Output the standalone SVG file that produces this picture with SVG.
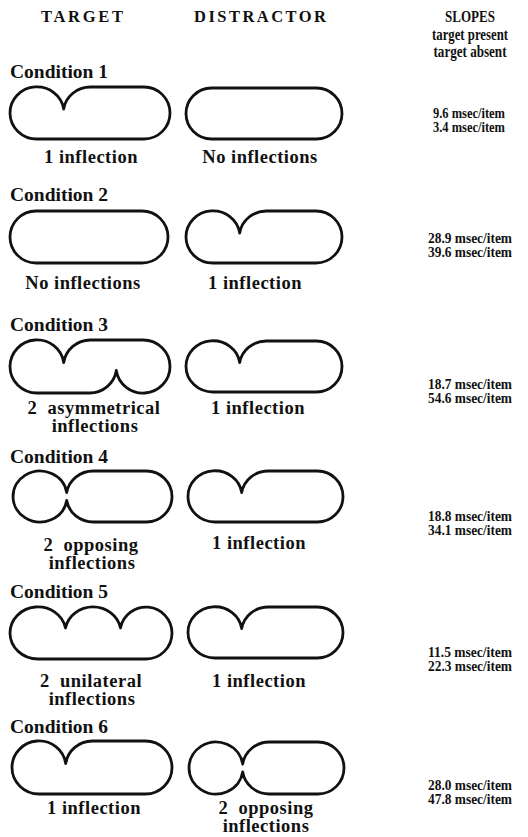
<svg xmlns="http://www.w3.org/2000/svg" width="528" height="837" viewBox="0 0 528 837">
<style>
text{font-family:"Liberation Serif","Times New Roman",serif;font-weight:bold;fill:#111}
.hd{font-size:16.5px;text-anchor:middle}
.hs{font-size:16.5px;text-anchor:middle}
.sub{font-size:16.5px;text-anchor:middle}
.cond{font-size:19.5px}
.lbl{font-size:18.5px;letter-spacing:0.5px;text-anchor:middle}
.sl{font-size:15.5px;text-anchor:middle}
.sh{fill:none;stroke:#111;stroke-width:2.8;stroke-linejoin:round}
</style>
<rect width="528" height="837" fill="#fff"/>
<g id="headers">
<text class="hd" x="82" y="22" textLength="82">TARGET</text>
<text class="hd" x="260" y="22" textLength="132">DISTRACTOR</text>
<text class="hs" x="470" y="22" textLength="50" lengthAdjust="spacingAndGlyphs">SLOPES</text>
<text class="sub" x="470" y="40" textLength="76" lengthAdjust="spacingAndGlyphs">target present</text>
<text class="sub" x="470" y="57" textLength="73" lengthAdjust="spacingAndGlyphs">target absent</text>
</g>
<g id="condition1">
<text class="cond" x="10" y="78">Condition 1</text>
<path class="sh" d="M37 139 A27 26 0 0 1 10 113 A27 26 0 0 1 63.7 109 A27 26 0 0 1 90.4 87 L144 87 A26 26 0 0 1 144 139 Z"/>
<path class="sh" d="M211.5 88 L316.5 88 A25.5 25.5 0 0 1 316.5 139 L211.5 139 A25.5 25.5 0 0 1 211.5 88 Z"/>
<text class="lbl" x="91" y="163">1 inflection</text>
<text class="lbl" x="260" y="163">No inflections</text>
<text class="sl" x="469" y="117.5" textLength="72" lengthAdjust="spacingAndGlyphs">9.6 msec/item</text>
<text class="sl" x="469" y="131.5" textLength="72" lengthAdjust="spacingAndGlyphs">3.4 msec/item</text>
</g>
<g id="condition2">
<text class="cond" x="10" y="201">Condition 2</text>
<path class="sh" d="M36 211 L142 211 A26 26 0 0 1 142 263 L36 263 A26 26 0 0 1 36 211 Z"/>
<path class="sh" d="M213 263 A27 26 0 0 1 186 237 A27 26 0 0 1 239.7 233 A27 26 0 0 1 266.4 211 L316 211 A26 26 0 0 1 316 263 Z"/>
<text class="lbl" x="83" y="289">No inflections</text>
<text class="lbl" x="255" y="289">1 inflection</text>
<text class="sl" x="470" y="242.5" textLength="84" lengthAdjust="spacingAndGlyphs">28.9 msec/item</text>
<text class="sl" x="470" y="256.5" textLength="84" lengthAdjust="spacingAndGlyphs">39.6 msec/item</text>
</g>
<g id="condition3">
<text class="cond" x="10" y="331">Condition 3</text>
<path class="sh" d="M37 393 A27 26.5 0 0 1 10 366.5 A27 26.5 0 0 1 63.7 362.5 A27 26.5 0 0 1 90.4 340 L143 340 A27 26.5 0 0 1 170 366.5 A27 26.5 0 0 1 116.3 370.5 A27 26.5 0 0 1 89.6 393 Z"/>
<path class="sh" d="M213 392 A27 25.5 0 0 1 186 366.5 A27 25.5 0 0 1 239.7 362.5 A27 25.5 0 0 1 266.4 341 L316.5 341 A25.5 25.5 0 0 1 316.5 392 Z"/>
<text class="lbl" x="94" y="414" xml:space="preserve">2  asymmetrical</text>
<text class="lbl" x="95" y="432">inflections</text>
<text class="lbl" x="258" y="414">1 inflection</text>
<text class="sl" x="470" y="388.5" textLength="84" lengthAdjust="spacingAndGlyphs">18.7 msec/item</text>
<text class="sl" x="470" y="402.5" textLength="84" lengthAdjust="spacingAndGlyphs">54.6 msec/item</text>
</g>
<g id="condition4">
<text class="cond" x="10" y="463">Condition 4</text>
<path class="sh" d="M66.7 500.5 A27 25.5 0 1 1 66.7 492.5 A27 25.5 0 0 1 93.4 471 L146.5 471 A25.5 25.5 0 0 1 146.5 522 L93.4 522 A27 25.5 0 0 1 66.7 500.5 Z"/>
<path class="sh" d="M215 522 A27 25.5 0 0 1 188 496.5 A27 25.5 0 0 1 241.7 492.5 A27 25.5 0 0 1 268.4 471 L317.5 471 A25.5 25.5 0 0 1 317.5 522 Z"/>
<text class="lbl" x="91" y="551" xml:space="preserve">2  opposing</text>
<text class="lbl" x="92" y="569">inflections</text>
<text class="lbl" x="259" y="549">1 inflection</text>
<text class="sl" x="470" y="520.5" textLength="84" lengthAdjust="spacingAndGlyphs">18.8 msec/item</text>
<text class="sl" x="470" y="534.5" textLength="84" lengthAdjust="spacingAndGlyphs">34.1 msec/item</text>
</g>
<g id="condition5">
<text class="cond" x="10" y="598">Condition 5</text>
<path class="sh" d="M38 659 A28 26 0 0 1 10 633 A28 26 0 0 1 65.5 628 A28 26 0 0 1 120.5 628 A26 26 0 0 1 172 633 A26 26 0 0 1 146 659 Z"/>
<path class="sh" d="M215 658 A27 25.5 0 0 1 188 632.5 A27 25.5 0 0 1 241.7 628.5 A27 25.5 0 0 1 268.4 607 L317.5 607 A25.5 25.5 0 0 1 317.5 658 Z"/>
<text class="lbl" x="91" y="687" xml:space="preserve">2  unilateral</text>
<text class="lbl" x="92" y="705">inflections</text>
<text class="lbl" x="259" y="687">1 inflection</text>
<text class="sl" x="470" y="656.5" textLength="84" lengthAdjust="spacingAndGlyphs">11.5 msec/item</text>
<text class="sl" x="470" y="670.5" textLength="84" lengthAdjust="spacingAndGlyphs">22.3 msec/item</text>
</g>
<g id="condition6">
<text class="cond" x="10" y="733">Condition 6</text>
<path class="sh" d="M39 794 A27 26.5 0 0 1 12 767.5 A27 26.5 0 0 1 65.7 763.5 A27 26.5 0 0 1 92.4 741 L145.5 741 A26.5 26.5 0 0 1 145.5 794 Z"/>
<path class="sh" d="M242.7 772 A27 26 0 1 1 242.7 764 A27 26 0 0 1 269.4 742 L318 742 A26 26 0 0 1 318 794 L269.4 794 A27 26 0 0 1 242.7 772 Z"/>
<text class="lbl" x="94" y="814">1 inflection</text>
<text class="lbl" x="266" y="814" xml:space="preserve">2  opposing</text>
<text class="lbl" x="266" y="832">inflections</text>
<text class="sl" x="470" y="789.5" textLength="84" lengthAdjust="spacingAndGlyphs">28.0 msec/item</text>
<text class="sl" x="470" y="803.5" textLength="84" lengthAdjust="spacingAndGlyphs">47.8 msec/item</text>
</g>
</svg>
